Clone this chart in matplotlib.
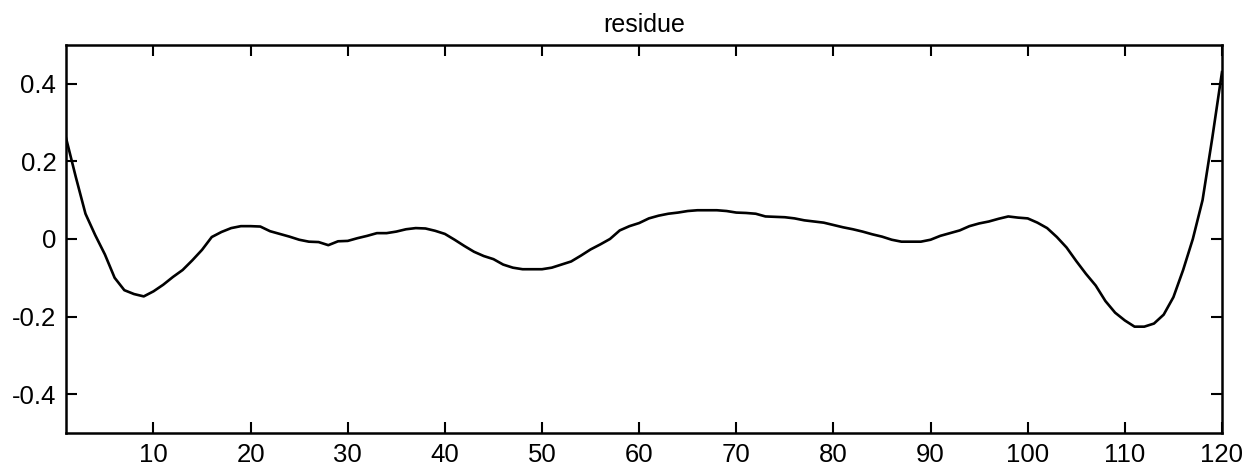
import matplotlib
matplotlib.use("Agg")
import matplotlib.pyplot as plt
import numpy as np

plt.rcParams['font.family'] = ['Liberation Sans', 'DejaVu Sans']

x_vals = list(range(1, 121))
residue = [
    0.26, 0.16, 0.065, 0.01, -0.04, -0.10, -0.132, -0.142, -0.148, -0.135,
    -0.118, -0.098, -0.08, -0.055, -0.028, 0.005, 0.018, 0.028, 0.033, 0.033,
    0.032, 0.02, 0.013, 0.006, -0.002, -0.007, -0.008, -0.016, -0.006, -0.005,
    0.002, 0.008, 0.015, 0.015, 0.019, 0.025, 0.028, 0.027, 0.021, 0.013,
    -0.002, -0.018, -0.033, -0.044, -0.052, -0.066, -0.074, -0.078, -0.078, -0.078,
    -0.074, -0.066, -0.058, -0.043, -0.027, -0.014, 0.0, 0.022, 0.033, 0.041,
    0.053, 0.06, 0.065, 0.068, 0.072, 0.074, 0.074, 0.074, 0.072, 0.068,
    0.067, 0.065, 0.058, 0.057, 0.056, 0.053, 0.048, 0.045, 0.042, 0.036,
    0.03, 0.025, 0.019, 0.012, 0.006, -0.002, -0.007, -0.007, -0.007, -0.002,
    0.008, 0.015, 0.022, 0.033, 0.04, 0.045, 0.052, 0.058, 0.055, 0.053,
    0.042, 0.028, 0.005, -0.022, -0.057, -0.09, -0.12, -0.16, -0.19, -0.21,
    -0.226, -0.226, -0.218, -0.195, -0.15, -0.08, 0.0, 0.1, 0.26, 0.43,
]
x_ticks = [10, 20, 30, 40, 50, 60, 70, 80, 90, 100, 110, 120]
y_ticks = [-0.4, -0.2, 0, 0.2, 0.4]
y_tick_labels = ['-0.4', '-0.2', '0', '0.2', '0.4']
title = 'residue'

fig = plt.figure(figsize=(12.51, 4.73), dpi=100)
ax = fig.add_axes([0.0528, 0.0846, 0.9240, 0.8204])
ax.plot(x_vals, residue, color='black', linewidth=1.9)
ax.set_xlim(1, 120)
ax.set_ylim(-0.5, 0.5)
ax.set_xticks(x_ticks)
ax.set_xticklabels([str(t) for t in x_ticks])
ax.set_yticks(y_ticks)
ax.set_yticklabels(y_tick_labels)
ax.tick_params(direction='in', length=8, width=1.5, top=True, right=True,
               labelsize=18.5, pad=7, colors='black')
for s in ax.spines.values():
    s.set_linewidth(1.8)
ax.set_title(title, fontsize=18, pad=9)
fig.savefig('out.png', dpi=100)
